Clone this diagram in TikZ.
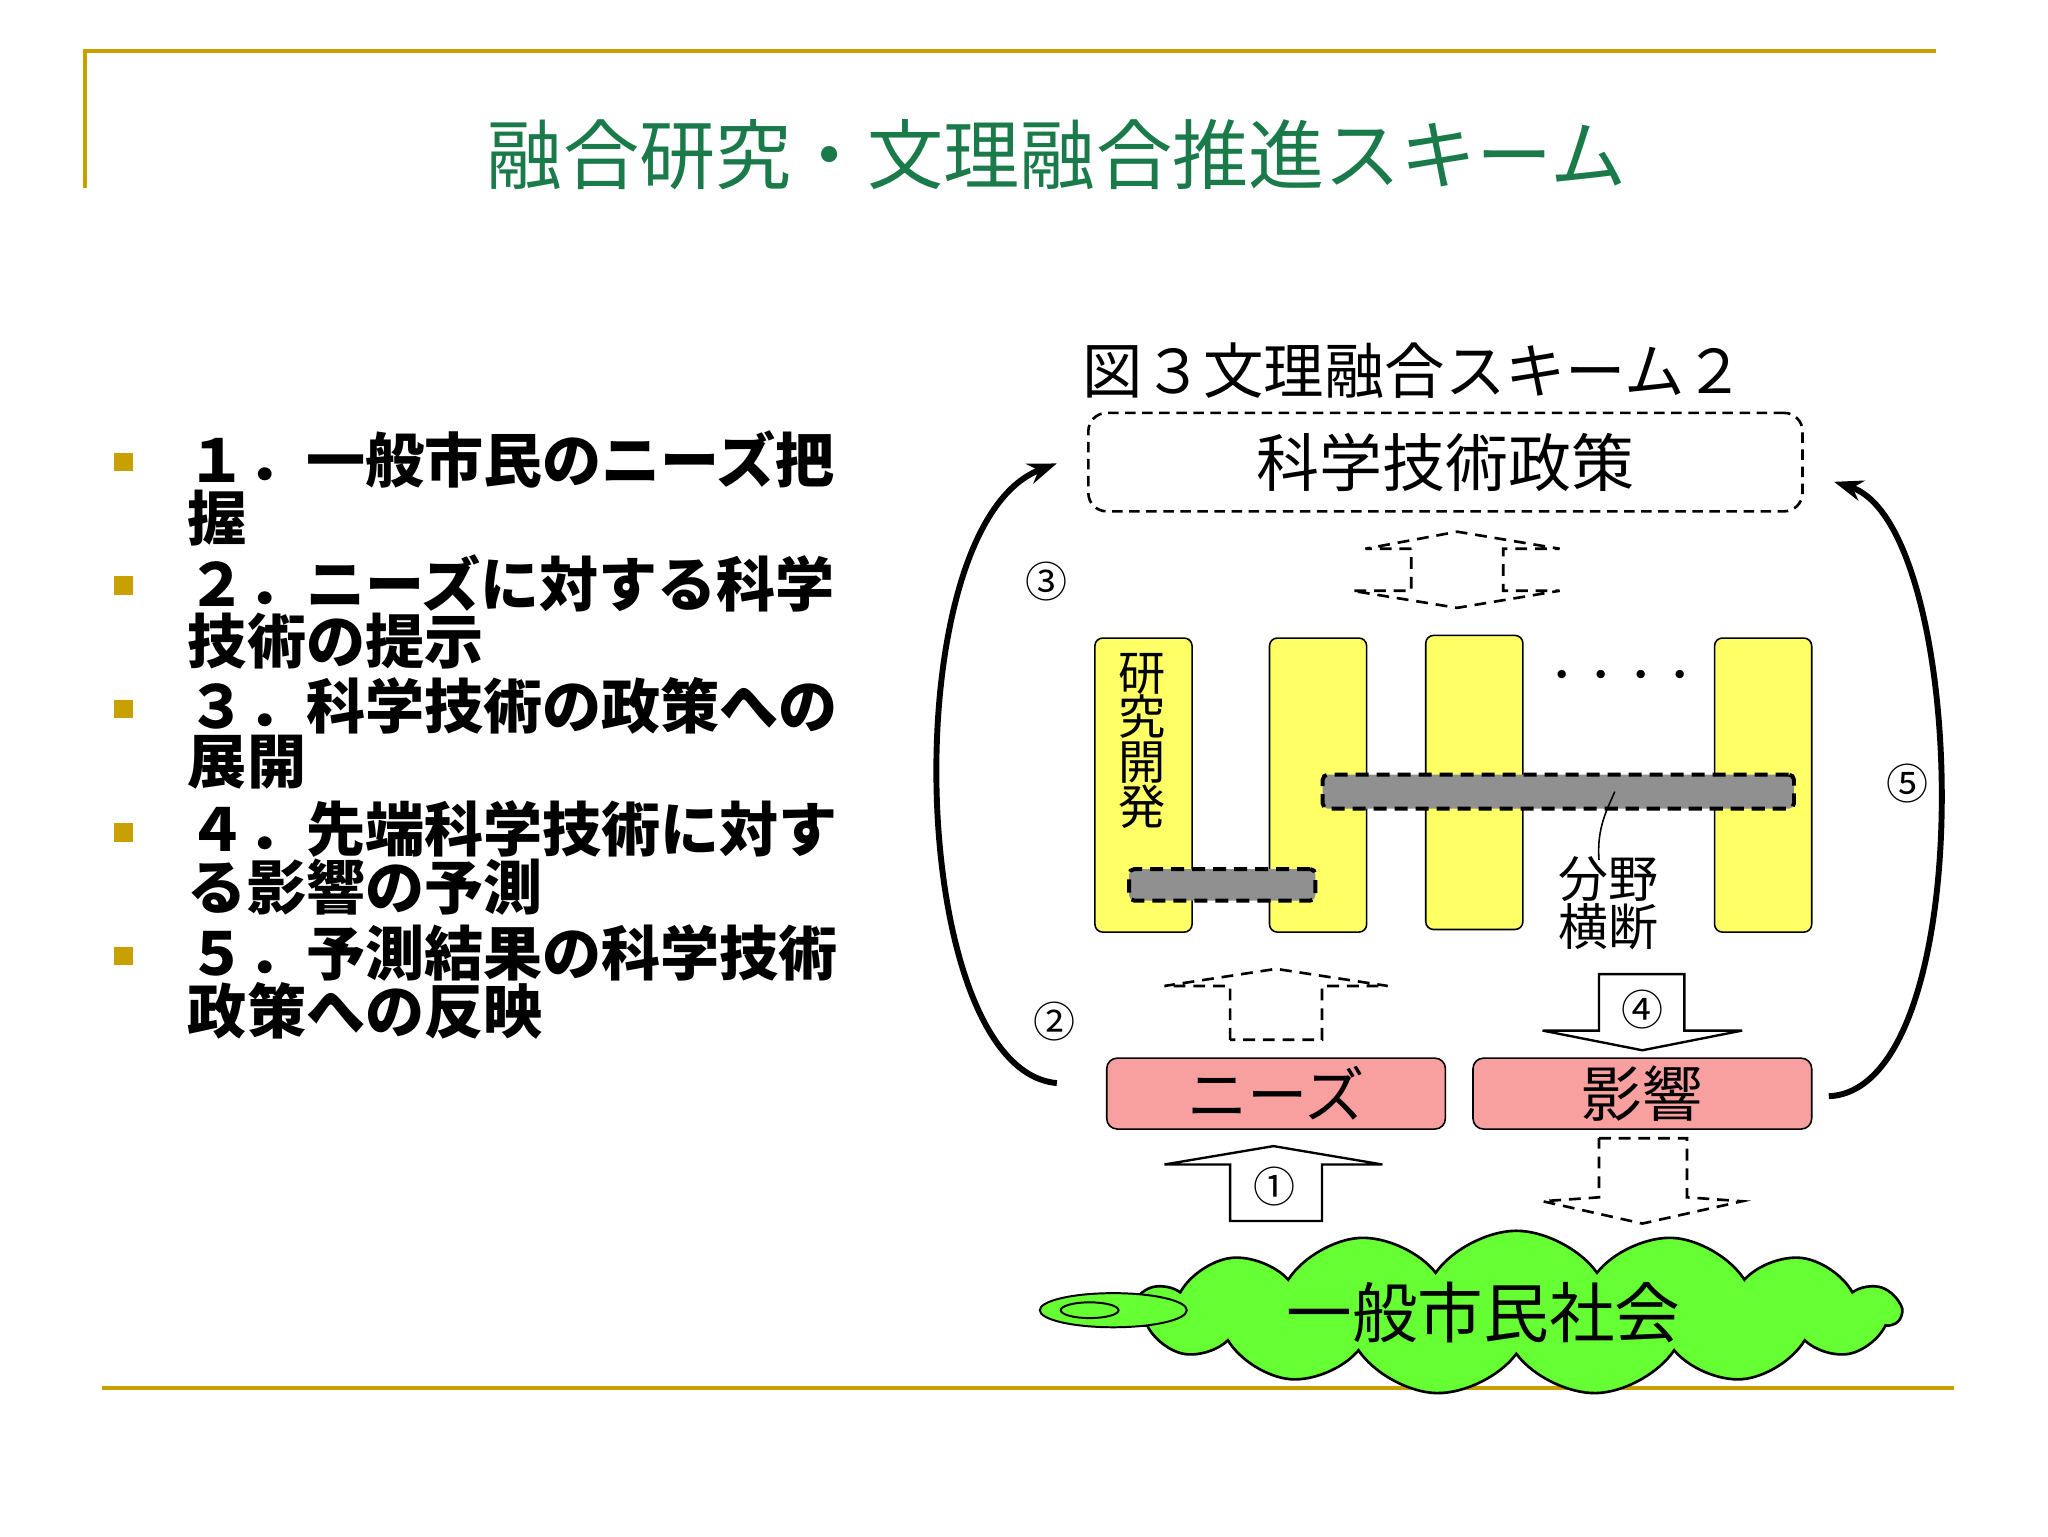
\documentclass[tikz,border=0pt]{standalone}
\usepackage{fontspec}
\setmainfont{Noto Sans CJK JP}
\usetikzlibrary{shapes.symbols,shapes.geometric,arrows.meta}
\definecolor{gold}{HTML}{C8A000}
\definecolor{ttl}{HTML}{1A7A4A}
\definecolor{ybar}{HTML}{FFFF66}
\definecolor{gbar}{HTML}{909090}
\definecolor{pinkb}{HTML}{F8A0A0}
\definecolor{cgreen}{HTML}{66FF33}
\tikzset{
 ybox/.style={draw,fill=ybar,rounded corners=6pt,line width=1.2pt},
 gdash/.style={draw,fill=gbar,dashed,dash pattern=on 10pt off 6pt,rounded corners=4pt,line width=3pt},
 pbox/.style={draw,fill=pinkb,rounded corners=8pt,line width=1.2pt},
 barrow/.style={draw,fill=white,line width=1.8pt,line join=miter},
 darrow/.style={draw,line width=2pt,dash pattern=on 9pt off 6pt},
 bul/.style={fill=gold,minimum size=14pt,inner sep=0pt},
 btxt/.style={anchor=north west,align=left,font=\fontsize{45}{42}\selectfont\bfseries,inner sep=0pt},
 circ/.style={font=\fontsize{32}{32}\selectfont},
 bigcurve/.style={line width=4.5pt,-{Stealth[length=22pt,width=16pt,open]}}
}
\begin{document}
\begin{tikzpicture}[x=1pt,y=-1pt]
\useasboundingbox (0,0) rectangle (1560,1170);
\draw[gold,line width=3pt] (65,143) -- (65,39) -- (1475,39);
\draw[gold,line width=3pt] (78,1057) -- (1488,1057);
\node[text=ttl,font=\fontsize{58}{62}\selectfont] (title) at (805,118) {融合研究・文理融合推進スキーム};
% bullets
\foreach \y/\t [count=\i] in {352/{１．一般市民のニーズ把\\握},446/{２．ニーズに対する科学\\技術の提示},540/{３．科学技術の政策への\\展開},634/{４．先端科学技術に対す\\る影響の予測},728/{５．予測結果の科学技術\\政策への反映}}{
 \node[bul] (b\i) at (94,\y) {};
 \node[btxt] (t\i) at (143,\y-24) {\t};
}
\node[font=\fontsize{46}{48}\selectfont] (cap) at (1077,282) {図３文理融合スキーム２};
\node[draw,dashed,dash pattern=on 8pt off 5pt,line width=2pt,rounded corners=14pt,minimum width=544pt,minimum height=75pt,font=\fontsize{48}{50}\selectfont] (policy) at (1101,352) {科学技術政策};
% double dashed arrow
\draw[darrow] (1075,418)--(1040,418)--(1110,405)--(1188,418)--(1145,418)--(1145,450)--(1188,450)--(1110,463)--(1030,450)--(1075,450)--cycle;
% bars
\node[ybox,minimum width=74pt,minimum height=224pt] (bar1) at (871,598) {};
\node[ybox,minimum width=74pt,minimum height=224pt] (bar2) at (1004,598) {};
\node[ybox,minimum width=74pt,minimum height=224pt] (bar3) at (1123,596) {};
\node[ybox,minimum width=74pt,minimum height=224pt] (bar4) at (1343,598) {};
\node[font=\fontsize{36}{34}\selectfont,align=center,anchor=north] (kk) at (870,494) {研\\究\\開\\発};
\node[font=\fontsize{30}{30}\selectfont] (dots) at (1235,518) {・・・・};
\node[gdash,minimum width=142pt,minimum height=24pt] (g1) at (931,674) {};
\node[gdash,minimum width=359pt,minimum height=26pt] (g2) at (1187,603) {};
\node[font=\fontsize{38}{34}\selectfont,align=center] (bunya) at (1225,688) {分野\\横断};
\draw[line width=1.2pt] (1218,655) .. controls (1216,630) and (1225,615) .. (1230,603);
% up dashed arrow
\draw[darrow] (937,792)--(937,751)--(887,751)--(972,738)--(1057,751)--(1007,751)--(1007,792)--cycle;
% ④ arrow
\draw[barrow] (1218,742)--(1283,742)--(1283,785)--(1327,785)--(1251,800)--(1175,785)--(1218,785)--cycle;
\node[circ] (n4) at (1251,769) {④};
% boxes
\node[pbox,minimum width=258pt,minimum height=54pt,font=\fontsize{46}{48}\selectfont] (needs) at (972,833) {ニーズ};
\node[pbox,minimum width=258pt,minimum height=54pt,font=\fontsize{46}{48}\selectfont] (eikyo) at (1251,833) {影響};
% ① arrow
\draw[barrow] (937,930)--(937,887)--(887,887)--(970,873)--(1053,887)--(1007,887)--(1007,930)--cycle;
\node[circ] (n1) at (971,904) {①};
% dashed down arrow
\draw[darrow] (1218,867)--(1285,867)--(1285,912)--(1327,915)--(1251,932)--(1175,915)--(1218,912)--cycle;
% cloud
\node[cloud,cloud puffs=15,cloud puff arc=110,aspect=4.3,draw,fill=cgreen,line width=2pt,minimum width=585pt,minimum height=125pt] (cloud) at (1155,1000) {};
\node[draw,fill=cgreen,ellipse,line width=1.5pt,minimum width=112pt,minimum height=26pt] (e1) at (848,998) {};
\node[draw,ellipse,line width=1.5pt,minimum width=44pt,minimum height=12pt] (e2) at (830,998) {};
\node[font=\fontsize{50}{52}\selectfont] (society) at (1130,1000) {一般市民社会};
% big curves
\coordinate (l1) at (805,825); \coordinate (l2) at (805,353);
\coordinate (r1) at (1393,835); \coordinate (r2) at (1397,367);
\draw[bigcurve] (l1) .. controls (690,815) and (680,400) .. (l2);
\draw[bigcurve] (r1) .. controls (1510,830) and (1500,400) .. (r2);
\node[circ] (n3) at (797,443) {③};
\node[circ] (n2) at (803,778) {②};
\node[circ] (n5) at (1453,597) {⑤};
\end{tikzpicture}
\end{document}
